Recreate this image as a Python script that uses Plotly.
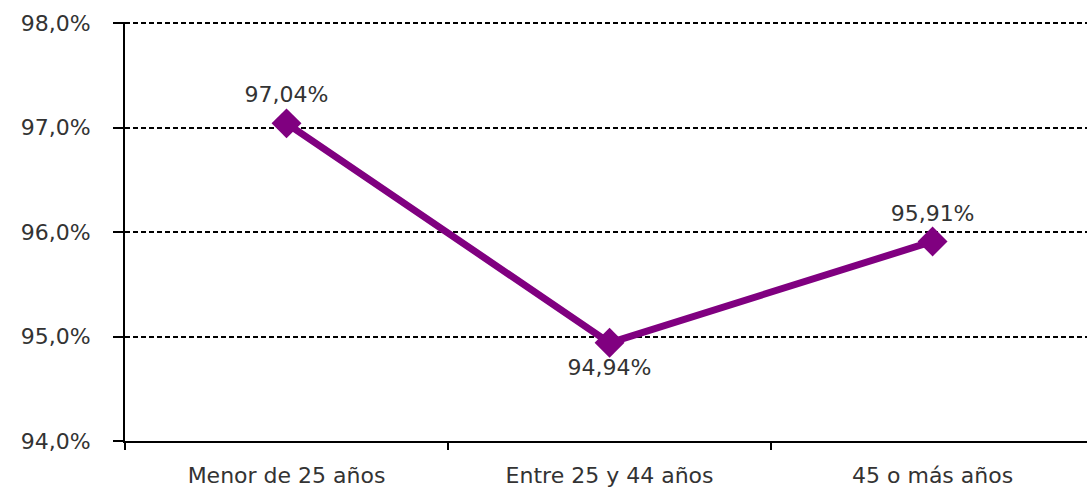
import plotly.graph_objects as go

categories = ["Menor de 25 años", "Entre 25 y 44 años", "45 o más años"]
values = [97.04, 94.94, 95.91]
label_positions = ["top center", "bottom center", "top center"]
y_ticks = [94, 95, 96, 97, 98]
y_tick_labels = ["94,0%", "95,0%", "96,0%", "97,0%", "98,0%"]

fig = go.Figure()
fig.add_trace(go.Scatter(
    x=categories, y=values,
    mode="lines+markers+text",
    line=dict(color="#800080", width=7),
    marker=dict(symbol="diamond", size=23, color="#800080"),
    text=[f"{v:.2f}".replace(".", ",") + "%" for v in values],
    textposition=label_positions,
    textfont=dict(family="DejaVu Sans", size=22, color="#333333"),
    cliponaxis=False,
    showlegend=False,
))

fig.update_layout(
    width=1087, height=491,
    margin=dict(l=125, r=0, t=22, b=50, autoexpand=False),
    plot_bgcolor="white", paper_bgcolor="white",
    separators=",.",
    font=dict(family="DejaVu Sans", size=22, color="#333333"),
)
fig.update_xaxes(
    type="category", range=[-0.5, 2.478], automargin=False,
    tickson="boundaries", ticks="outside", ticklen=7, tickwidth=2, tickcolor="black",
    showline=True, linecolor="black", linewidth=2,
    showgrid=False, tickfont=dict(size=22, color="#333333"),
    ticklabelstandoff=14,
)
fig.update_yaxes(
    range=[94, 98.01], tickvals=y_ticks, ticktext=y_tick_labels,
    automargin=False,
    ticks="outside", ticklen=10, tickwidth=1.5, tickcolor="black",
    showline=True, linecolor="black", linewidth=2,
    showgrid=True, gridcolor="black", griddash="5px,3px", gridwidth=1.5,
    zeroline=False, tickfont=dict(size=22, color="#333333"),
    ticklabelstandoff=18,
)

fig.write_html(
    "out.html",
    config={"displayModeBar": False},
    post_script="document.body.style.margin='0';document.body.style.padding='0';",
)
